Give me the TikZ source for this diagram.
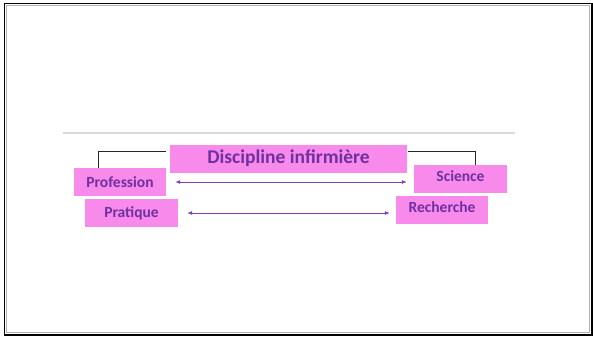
\documentclass[tikz,border=0pt]{standalone}
\usepackage{fontspec}
\setmainfont{Carlito}
\definecolor{boxpink}{HTML}{F78AEA}
\definecolor{textpurple}{HTML}{7030A0}
\definecolor{arrowpurple}{HTML}{8040B0}
\usetikzlibrary{arrows.meta}
\tikzset{
  termbox/.style={fill=boxpink, draw=none, inner sep=0pt, minimum height=28pt,
    text=textpurple, font=\bfseries\fontsize{15.5}{17}\selectfont},
  biarrow/.style={{Latex[length=5pt,width=4pt]}-{Latex[length=5pt,width=4pt]}, arrowpurple, line width=0.8pt},
  bracket/.style={draw=black!85, line width=0.8pt}
}
\begin{document}
\begin{tikzpicture}[x=1pt, y=-1pt]

    \useasboundingbox (0,0) rectangle (593,337);

    % Draw slide frame
    \draw[gray!60, line width=1.5pt] (6.5,5.5) rectangle (589.5,332.5);
    \draw[black, line width=1.5pt] (4.5,3.5) -- (4.5,335) -- (592,335) -- (592,3.5) -- cycle;

    % Draw separator line
    \draw[gray!30, line width=2pt] (63,133) -- (515,133);

    % Add the title and the four terms
    \node[termbox, minimum width=237pt, font=\bfseries\fontsize{19.5}{21}\selectfont] (disc) at (288.5,158.5) {Discipline infirmière};
    \node[termbox, minimum width=92pt] (prof) at (120,182) {Profession};
    \node[termbox, minimum width=93pt, text depth=6pt] (sci) at (460.5,179) {Science};
    \node[termbox, minimum width=93pt] (prat) at (131.5,213) {Pratique};
    \node[termbox, minimum width=92pt, text depth=6pt] (rech) at (442,210) {Recherche};

    % Brackets from the title to Profession and Science
    \draw[bracket] ([shift={(-4,-7.5)}]disc.west) -| ([xshift=-22]prof.north);
    \draw[bracket] ([shift={(1,-7.5)}]disc.east) -| ([xshift=14.5]sci.north);

    % Two-way arrows between the pairs
    \draw[biarrow] ([xshift=9]prof.east) -- ([xshift=-7]sci.west |- prof.east);
    \draw[biarrow] ([xshift=9]prat.east) -- ([xshift=-6]rech.west |- prat.east);

\end{tikzpicture}
\end{document}
